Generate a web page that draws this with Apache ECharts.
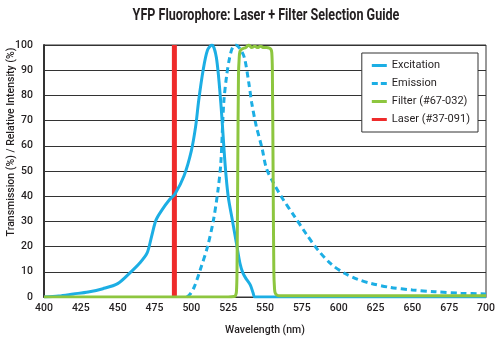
<!DOCTYPE html>
<html><head><meta charset="utf-8">
<script src="https://cdn.jsdelivr.net/npm/echarts@6/dist/echarts.min.js"></script>
<style>html,body{margin:0;padding:0;background:#fff}#c{width:500px;height:340px}</style>
</head><body><div id="c"></div>
<script>
var xTicks = [400,425,450,475,500,525,550,575,600,625,650,675,700];
var yTicks = [0,10,20,30,40,50,60,70,80,90,100];

var excitationNm  = [400,410,420,430,440,450,458,465,470,473,476,480,485,489,495,500,503,505,508,511,514,517,520,523,525,528,531,533,535,537,540,542,543,550,600,650,700];
var excitationVal = [0,0.4,1.2,2,3.3,5.3,9.4,13.5,17.5,24,30.5,34.5,38.5,41,48,58,68,78,90,98,100,95,77,52,40,30,20,13.4,9.5,7.4,4.8,1.5,0,0,0,0,0];

var emissionNm  = [497,499,502,506,511,515,518,520,522,524,526,528,530,533,536,539,541,544,548,551,556,562,570,578,586,595,604,613,622,635,650,665,683,700];
var emissionVal = [0,1,4,10.7,20,30.5,42,53,77,88,95,99,100,98.5,95,85,77,68,59,51,45,39,32,25,18.6,13,9.4,7,5.4,3.8,2.8,2.1,1.5,1.2];

var filterNm  = [400,525,529,530,530.6,531,531.5,532,532.5,533,534,535,537,539,541,543,545,547,549,551,553,554,554.6,555,555.5,556,556.5,557,558,560,700];
var filterVal = [0,0,0.2,0.6,2,10,50,88,95,97.5,98.3,98.6,99,100,99,99.5,99,99.5,99,99,98.8,98.3,97,90,50,10,3,1.5,0.8,0.5,0.5];

var laserNm  = [488.5,488.5];
var laserVal = [0,100];

var titleText = 'YFP Fluorophore: Laser + Filter Selection Guide';
var xName = 'Wavelength (nm)';
var yName = 'Transmission (%) / Relative Intensity (%)';

function pairs(xs, ys){ return xs.map(function(x,i){ return [x, ys[i]]; }); }

var FONT = "Roboto, sans-serif";
var BLUE = '#1caee4', GREEN = '#8dc63f', RED = '#ee2b2b', DARK = '#333', TXT = '#231f20';

var chart = echarts.init(document.getElementById('c'), null, {renderer:'canvas'});
chart.setOption({
  animation: false,
  backgroundColor: '#fff',
  graphic: [{
    type: 'text', x: 266, y: 16, scaleX: 0.74, z: 10,
    style: {text: titleText, fill: TXT,
            font: "bold 17px Roboto, sans-serif", textAlign: 'center', textVerticalAlign: 'middle'}
  }, {
    type: 'text', x: 11, y: 142, rotation: Math.PI / 2, z: 10,
    style: {text: yName, fill: TXT,
            font: "500 10.5px Roboto, sans-serif", textAlign: 'center', textVerticalAlign: 'middle'}
  }],
  legend: {
    orient: 'vertical', right: 22, top: 53,
    backgroundColor: '#fff', borderColor: DARK, borderWidth: 1,
    padding: [6, 8, 6, 10],
    itemWidth: 15, itemHeight: 3, itemGap: 5,
    textStyle: {fontFamily: FONT, fontSize: 11, color: TXT, lineHeight: 13},
    data: [
      {name: 'Excitation', icon: 'rect'},
      {name: 'Emission', icon: 'path://M0,0h6v3h-6z M9,0h6v3h-6z'},
      {name: 'Filter (#67-032)', icon: 'rect'},
      {name: 'Laser (#37-091)', icon: 'rect'}
    ]
  },
  grid: {left: 44, right: 14, top: 45, bottom: 43, show: true, borderColor: DARK, borderWidth: 1,
         containLabel: false, outerBoundsMode: 'none'},
  xAxis: {
    type: 'value', min: xTicks[0], max: xTicks[xTicks.length-1], interval: 25,
    name: xName, nameLocation: 'middle', nameGap: 28,
    nameTextStyle: {fontFamily: FONT, fontSize: 10.5, fontWeight: 500, color: TXT},
    axisLine: {lineStyle: {color: DARK, width: 1}}, axisTick: {show: false},
    splitLine: {show: false},
    axisLabel: {fontFamily: FONT, fontSize: 10.5, fontWeight: 500, color: TXT, margin: 6}
  },
  yAxis: {
    type: 'value', min: yTicks[0], max: yTicks[yTicks.length-1], interval: 10,
    axisLine: {show: true, lineStyle: {color: DARK, width: 2}}, axisTick: {show: false},
    splitLine: {show: true, lineStyle: {color: DARK, width: 1}},
    axisLabel: {fontFamily: FONT, fontSize: 10.5, fontWeight: 500, color: TXT, margin: 11}
  },
  series: [
    {name: 'Laser (#37-091)', type: 'line', data: pairs(laserNm, laserVal), symbol: 'none',
     lineStyle: {color: RED, width: 5}, itemStyle: {color: RED}, z: 2},
    {name: 'Emission', type: 'line', data: pairs(emissionNm, emissionVal), symbol: 'none', smooth: 0.3,
     lineStyle: {color: BLUE, width: 3, type: [6,4]}, itemStyle: {color: BLUE}, z: 3},
    {name: 'Excitation', type: 'line', data: pairs(excitationNm, excitationVal), symbol: 'none', smooth: 0.3,
     lineStyle: {color: BLUE, width: 3}, itemStyle: {color: BLUE}, z: 4},
    {name: 'Filter (#67-032)', type: 'line', data: pairs(filterNm, filterVal), symbol: 'none', smooth: 0.3,
     lineStyle: {color: GREEN, width: 3}, itemStyle: {color: GREEN}, z: 5}
  ]
});
</script></body></html>
